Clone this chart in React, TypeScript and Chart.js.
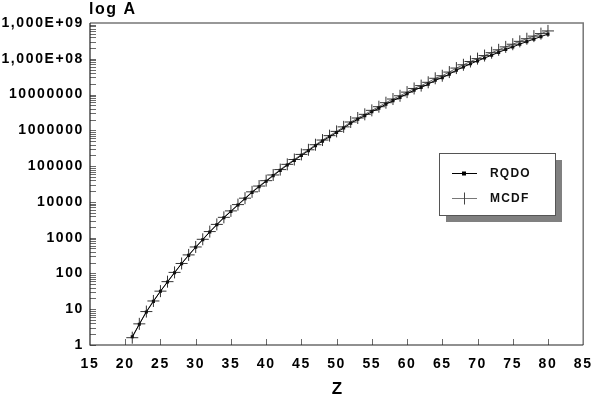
import { useEffect, useRef } from "react";
import { Chart, registerables } from "chart.js";

Chart.register(...registerables);

const zValues = [
  21, 22, 23, 24, 25, 26, 27, 28, 29, 30, 31, 32, 33, 34, 35, 36, 37, 38, 39, 40,
  41, 42, 43, 44, 45, 46, 47, 48, 49, 50, 51, 52, 53, 54, 55, 56, 57, 58, 59, 60,
  61, 62, 63, 64, 65, 66, 67, 68, 69, 70, 71, 72, 73, 74, 75, 76, 77, 78, 79, 80,
];

const rqdo = [
  1.7, 3.8, 8.4, 16.6, 31.7, 57.7, 105, 187, 321, 538,
  877, 1440, 2290, 3610, 5410, 8180, 12270, 18490, 26600, 37600,
  54100, 76200, 107000, 145000, 200000, 269000, 372000, 501000, 661000, 871000,
  1.16e6, 1.58e6, 2.04e6, 2.57e6, 3.31e6, 4.17e6, 5.37e6, 6.76e6, 8.32e6, 1.05e7,
  1.32e7, 1.58e7, 1.95e7, 2.51e7, 2.95e7, 3.72e7, 4.79e7, 5.89e7, 7.24e7, 8.71e7,
  1.05e8, 1.26e8, 1.51e8, 1.82e8, 2.14e8, 2.57e8, 3.02e8, 3.55e8, 4.17e8, 4.9e8,
];

const mcdf = [
  1.6, 3.9, 8.6, 17, 32, 59, 107, 190, 330, 550,
  900, 1480, 2350, 3700, 5600, 8400, 12700, 19100, 27700, 39200,
  56500, 80000, 112000, 153000, 212000, 286000, 396000, 535000, 710000, 935000,
  1.25e6, 1.71e6, 2.21e6, 2.8e6, 3.62e6, 4.58e6, 5.92e6, 7.5e6, 9.25e6, 1.17e7,
  1.48e7, 1.78e7, 2.2e7, 2.85e7, 3.36e7, 4.25e7, 5.5e7, 6.8e7, 8.4e7, 1.01e8,
  1.23e8, 1.48e8, 1.78e8, 2.15e8, 2.55e8, 3.07e8, 3.63e8, 4.3e8, 5.05e8, 6.0e8,
];

const yTickValues = [1, 10, 100, 1000, 1e4, 1e5, 1e6, 1e7, 1e8, 1e9];
const yTickLabels = [
  "1", "10", "100", "1000", "10000", "100000", "1000000", "10000000", "1,000E+08", "1,000E+09",
];
const seriesNames = ["RQDO", "MCDF"];
const yTitle = "log A";
const xTitle = "Z";

const FONT = "'Liberation Sans', Arial, Helvetica, sans-serif";

export default function App() {
  const ref = useRef<HTMLCanvasElement>(null);

  useEffect(() => {
    document.body.style.margin = "0";
    const canvas = ref.current!;

    const deco = {
      id: "deco",
      beforeDraw(chart: any) {
        chart.ctx.letterSpacing = "1.6px";
      },
      afterDraw(chart: any) {
        const { ctx, chartArea: a, scales } = chart;
        const xs = scales.x;
        const ys = scales.y;
        ctx.save();
        ctx.letterSpacing = "0px";

        // inner tick marks
        ctx.strokeStyle = "#6a6a6a";
        ctx.lineWidth = 1;
        ctx.beginPath();
        for (let d = 0; d < 9; d++) {
          for (let k = 1; k < 10; k++) {
            const py = Math.round(ys.getPixelForValue(k * Math.pow(10, d))) + 0.5;
            ctx.moveTo(a.left, py);
            ctx.lineTo(a.left + 6, py);
          }
        }
        xs.ticks.forEach((t: any) => {
          if (t.value <= xs.min || t.value >= xs.max) return;
          const px = Math.round(xs.getPixelForValue(t.value)) + 0.5;
          ctx.moveTo(px, a.bottom);
          ctx.lineTo(px, a.bottom - 6);
        });
        ctx.stroke();

        // frame
        ctx.lineWidth = 1.5;
        ctx.strokeStyle = "#777";
        ctx.beginPath();
        ctx.moveTo(a.left, a.top);
        ctx.lineTo(a.right, a.top);
        ctx.lineTo(a.right, a.bottom);
        ctx.stroke();
        ctx.strokeStyle = "#222";
        ctx.lineWidth = 1.2;
        ctx.beginPath();
        ctx.moveTo(a.left, a.top);
        ctx.lineTo(a.left, a.bottom);
        ctx.lineTo(a.right, a.bottom);
        ctx.stroke();

        // titles
        ctx.fillStyle = "#000";
        ctx.font = `bold 16px ${FONT}`;
        ctx.letterSpacing = "1.5px";
        ctx.textBaseline = "middle";
        ctx.textAlign = "left";
        ctx.fillText(yTitle, 89, 9.5);
        ctx.font = `bold 17px ${FONT}`;
        ctx.textAlign = "center";
        ctx.fillText(xTitle, (a.left + a.right) / 2 + 1, 389);

        // legend
        const bx = 439, by = 153, bw = 116, bh = 62;
        ctx.fillStyle = "#808080";
        ctx.fillRect(bx + 7, by + 7, bw, bh);
        ctx.fillStyle = "#fff";
        ctx.fillRect(bx, by, bw, bh);
        ctx.strokeStyle = "#555";
        ctx.lineWidth = 1;
        ctx.strokeRect(bx + 0.5, by + 0.5, bw, bh);

        const y1 = 173.5, y2 = 198.5;
        ctx.strokeStyle = "#000";
        ctx.beginPath();
        ctx.moveTo(452, y1);
        ctx.lineTo(477, y1);
        ctx.stroke();
        ctx.fillStyle = "#000";
        ctx.fillRect(462, y1 - 2, 4, 4);

        ctx.strokeStyle = "#777";
        ctx.beginPath();
        ctx.moveTo(452, y2);
        ctx.lineTo(477, y2);
        ctx.stroke();
        ctx.strokeStyle = "#444";
        ctx.beginPath();
        ctx.moveTo(464.5, y2 - 6);
        ctx.lineTo(464.5, y2 + 6);
        ctx.stroke();

        ctx.fillStyle = "#111";
        ctx.font = `bold 12px ${FONT}`;
        ctx.letterSpacing = "1.2px";
        ctx.textAlign = "left";
        ctx.textBaseline = "middle";
        ctx.fillText(seriesNames[0], 490, y1 + 0.5);
        ctx.fillText(seriesNames[1], 490, y2 + 0.5);
        ctx.restore();
      },
    };

    const chart = new Chart(canvas, {
      type: "line",
      data: {
        datasets: [
          {
            label: seriesNames[0],
            data: zValues.map((z, i) => ({ x: z, y: rqdo[i] })),
            borderColor: "#000",
            borderWidth: 1,
            backgroundColor: "#000",
            pointStyle: "rect",
            pointRadius: 2.2,
            pointBorderWidth: 0,
            pointBackgroundColor: "#111",
            tension: 0,
          },
          {
            label: seriesNames[1],
            data: zValues.map((z, i) => ({ x: z, y: mcdf[i] })),
            borderColor: "#666",
            borderWidth: 1,
            pointStyle: "cross",
            pointRadius: 6,
            pointBorderWidth: 1,
            pointBorderColor: "#333",
            tension: 0,
          },
        ],
      },
      options: {
        animation: false,
        responsive: false,
        layout: { padding: { top: 23, right: 10, left: 0, bottom: 0 } },
        plugins: { legend: { display: false }, tooltip: { enabled: false } },
        scales: {
          x: {
            type: "linear",
            min: 15,
            max: 85,
            ticks: {
              stepSize: 5,
              padding: 11,
              autoSkip: false,
              maxRotation: 0,
              color: "#000",
              font: { family: FONT, size: 14, weight: "bold" },
            },
            grid: { display: false, drawTicks: false },
            border: { display: false },
            afterFit: (s: any) => {
              s.height = 52;
            },
          },
          y: {
            type: "logarithmic",
            min: 1,
            max: 1e9,
            afterBuildTicks: (s: any) => {
              s.ticks = yTickValues.map((v) => ({ value: v }));
            },
            ticks: {
              padding: 6,
              autoSkip: false,
              color: "#000",
              font: { family: FONT, size: 14, weight: "bold" },
              callback: (v: any) => {
                const i = Math.round(Math.log10(Number(v)));
                return yTickLabels[i] ?? "";
              },
            },
            grid: { display: false, drawTicks: false },
            border: { display: false },
            afterFit: (s: any) => {
              s.width = 90;
            },
          },
        },
      },
      plugins: [deco],
    } as any);

    return () => chart.destroy();
  }, []);

  return (
    <canvas
      ref={ref}
      width={602}
      height={397}
      style={{ display: "block", width: 602, height: 397 }}
    />
  );
}
